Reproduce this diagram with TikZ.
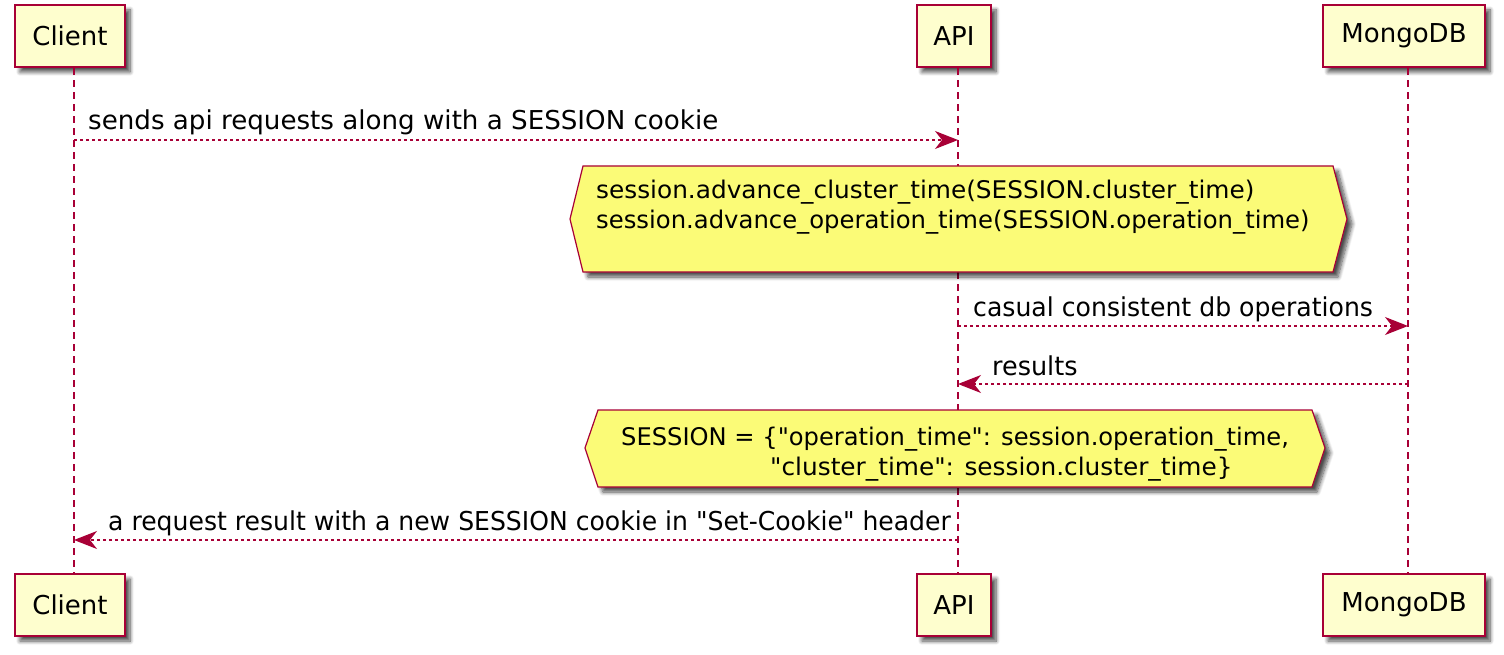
\documentclass[tikz,border=0pt]{standalone}
\usepackage{fontspec}
\setmainfont{DejaVu Sans}[Ligatures=TeXOff]
\usetikzlibrary{arrows.meta,shadows.blur}
\definecolor{umlred}{HTML}{A80036}
\definecolor{partfill}{HTML}{FEFECE}
\definecolor{notefill}{HTML}{FBFB77}
\newcommand{\sdq}{\symbol{34}}
\tikzset{
  umlshadow/.style={blur shadow={shadow xshift=5pt, shadow yshift=-5pt, shadow blur steps=8, shadow blur radius=4pt, shadow opacity=70}},
  partbox/.style={draw=umlred, line width=2.5pt, fill=partfill, minimum height=62pt, inner sep=0pt,
    font=\fontsize{26}{30}\selectfont, umlshadow},
  lifeline/.style={umlred, line width=1.2pt, dash pattern=on 7pt off 5pt},
  msg/.style={umlred, line width=1.3pt, dash pattern=on 3pt off 3pt,
    -{Stealth[length=23pt,width=18pt,inset=7pt]}},
  msglabel/.style={anchor=base west, inner sep=0pt, font=\fontsize{26}{30}\selectfont, transform shape},
  hexnote/.style={draw=umlred, line width=1.2pt, fill=notefill, line join=miter, umlshadow},
  notetext/.style={anchor=base west, inner sep=0pt, font=\fontsize{24.3}{29}\selectfont, transform shape}
}
\begin{document}
\begin{tikzpicture}[x=1pt,y=-1pt]
\useasboundingbox (0,0) rectangle (1504,655);

% participants (top)
\node[partbox, minimum width=110pt] (ct) at (70,36) {Client};
\node[partbox, minimum width=74pt]  (at) at (954,36) {API};
\node[partbox, minimum width=162pt] (mt) at (1404,36) {MongoDB};
% participants (bottom)
\node[partbox, minimum width=110pt] (cb) at (70,605) {Client};
\node[partbox, minimum width=74pt]  (ab) at (954,605) {API};
\node[partbox, minimum width=162pt] (mb) at (1404,605) {MongoDB};

% lifelines
\draw[lifeline] ([xshift=4pt]ct.south) -- ([xshift=4pt]cb.north);
\draw[lifeline] ([xshift=4pt]at.south) -- ([xshift=4pt]ab.north);
\draw[lifeline] ([xshift=4pt]mt.south) -- ([xshift=4pt]mb.north);

% message anchor points on lifelines
\coordinate (c1) at (74,140);   \coordinate (a1) at (958,140);
\coordinate (a3) at (958,326);  \coordinate (m3) at (1408,326);
\coordinate (m4) at (1408,384); \coordinate (a4) at (958,384);
\coordinate (a5) at (958,540);  \coordinate (c5) at (74,540);

% message 1
\draw[msg] (c1) -- (a1);
\node[msglabel, xscale=1.005] (l1) at (88,130) {sends api requests along with a SESSION cookie};

% note 1
\draw[hexnote] (570,219) -- (583,166) -- (1333,166) -- (1347,219) -- (1333,272) -- (583,272) -- cycle;
\node[notetext, xscale=1.02] (n1a) at (596,199) {session.advance\_cluster\_time(SESSION.cluster\_time)};
\node[notetext] (n1b) at (596,229) {session.advance\_operation\_time(SESSION.operation\_time)};

% message 3
\draw[msg] (a3) -- (m3);
\node[msglabel, xscale=0.967] (l3) at (973,316) {casual consistent db operations};

% message 4
\draw[msg] (m4) -- (a4);
\node[msglabel, xscale=0.98] (l4) at (992,375) {results};

% note 2
\draw[hexnote] (585,448) -- (598,410) -- (1312,410) -- (1325,448) -- (1312,487) -- (598,487) -- cycle;
\node[notetext, xscale=0.995] (n2a) at (621,445) {SESSION = \{\sdq operation\_time\sdq: session.operation\_time,};
\node[notetext, xscale=1.02] (n2b) at (770,475) {\sdq cluster\_time\sdq: session.cluster\_time\}};

% message 5
\draw[msg] (a5) -- (c5);
\node[msglabel, xscale=0.965] (l5) at (108,530) {a request result with a new SESSION cookie in \sdq Set-Cookie\sdq{} header};
\end{tikzpicture}
\end{document}
